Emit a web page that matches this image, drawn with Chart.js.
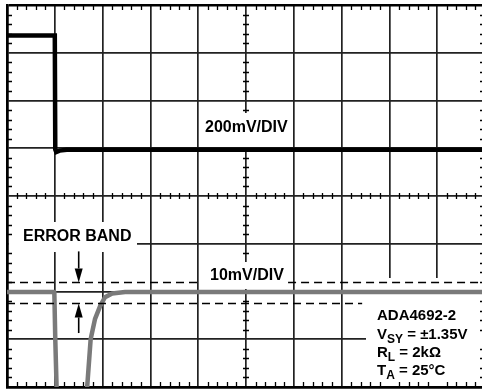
<!DOCTYPE html>
<html>
<head>
<meta charset="utf-8">
<script src="https://cdn.jsdelivr.net/npm/chart.js@4/dist/chart.umd.min.js"></script>
<style>
  html, body { margin:0; padding:0; overflow:hidden; background:#fff; }
  #wrap { position:relative; width:490px; height:392px; }
  #c { position:absolute; left:0; top:0; }
  .lbl { position:absolute; font-family:"Liberation Sans", Arial, sans-serif; font-weight:bold; color:#000; white-space:nowrap; line-height:1; }
  .f16 { font-size:16px; }
  .f15 { font-size:15px; }
  .sub { font-size:12px; position:relative; top:4px; }
</style>
</head>
<body>
<div id="wrap">
  <canvas id="c" width="490" height="392"></canvas>
  <div class="lbl f16" style="left:205px; top:119px;">200mV/DIV</div>
  <div class="lbl f16" style="left:210px; top:267px;">10mV/DIV</div>
  <div class="lbl f16" style="left:23px; top:228px;">ERROR BAND</div>
  <div class="lbl f15" style="left:377px; top:307px;">ADA4692-2</div>
  <div class="lbl f15" style="left:377px; top:326px;">V<span class="sub">SY</span> = ±1.35V</div>
  <div class="lbl f15" style="left:377px; top:344px;">R<span class="sub">L</span> = 2kΩ</div>
  <div class="lbl f15" style="left:377px; top:362px;">T<span class="sub">A</span> = 25°C</div>
</div>
<script>
// ---- data (divisions) ----
const topX  = [0, 1.0, 1.01, 1.03, 1.1, 1.25, 10];
const topY  = [3.36, 3.36, 0.97, 0.92, 0.95, 0.97, 0.97];

const grayX = [0, 0.99, 1.01, 1.04, 1.05, 1.67, 1.75, 1.84, 1.95, 2.05, 2.2, 2.47, 10];
const grayY = [-2.01, -2.01, -3.0, -4.1, null, -4.1, -3.0, -2.58, -2.30, -2.12, -2.04, -2.01, -2.01];

const bandUpperX = [0, 4.0, 4.01, 5.88, 10];
const bandUpperY = [-1.81, -1.81, null, -1.81, -1.81];
const bandLowerX = [0, 7.43];
const bandLowerY = [-2.25, -2.25];

const arrowX    = [1.5, 1.5];
const arrowFrom = [-1.16, -2.87];
const arrowTo   = [-1.81, -2.25];

const xDivs = [0, 10];
const yDivs = [-4, 4];

const pts = (xs, ys) => xs.map((v, i) => ({x: v, y: ys[i]}));

// label background boxes (pixels)
const boxes = [
  {x0:200, y0:113, x1:292, y1:147},
  {x0:199, y0:262, x1:289, y1:289},
  {x0:9,   y0:222, x1:137, y1:252},
  {x0:366, y0:278, x1:483, y1:386}
];

const scopePlugin = {
  id: 'scope',
  beforeDatasetsDraw(chart) {
    const {ctx, scales:{x, y}, chartArea:a} = chart;
    ctx.save();
    ctx.strokeStyle = '#000';
    ctx.lineWidth = 1.3;
    const x0 = x.getPixelForValue(5), y0 = y.getPixelForValue(0);
    ctx.beginPath();
    for (let i = 1; i < 50; i++) {
      if (i % 5 === 0) continue;
      const px = Math.round(x.getPixelForValue(i / 5)) + 0.5;
      ctx.moveTo(px, y0 - 3); ctx.lineTo(px, y0 + 3);
    }
    for (let i = -19; i < 20; i++) {
      if (i % 5 === 0) continue;
      const py = Math.round(y.getPixelForValue(i / 5)) + 0.5;
      ctx.moveTo(x0 - 3, py); ctx.lineTo(x0 + 3, py);
    }
    ctx.stroke();
    // label boxes
    ctx.fillStyle = '#fff';
    boxes.forEach(b => ctx.fillRect(b.x0, b.y0, b.x1 - b.x0, b.y1 - b.y0));
    // border minor ticks
    ctx.beginPath();
    for (let i = 1; i < 50; i++) {
      if (i % 5 === 0) continue;
      const px = Math.round(x.getPixelForValue(i / 5)) + 0.5;
      ctx.moveTo(px, a.top); ctx.lineTo(px, a.top + 5);
      ctx.moveTo(px, a.bottom); ctx.lineTo(px, a.bottom - 5);
    }
    for (let i = -19; i < 20; i++) {
      if (i % 5 === 0) continue;
      const py = Math.round(y.getPixelForValue(i / 5)) + 0.5;
      ctx.moveTo(a.left, py); ctx.lineTo(a.left + 5, py);
      ctx.moveTo(a.right, py); ctx.lineTo(a.right - 5, py);
    }
    ctx.stroke();
    ctx.restore();
  },
  afterDatasetsDraw(chart) {
    const {ctx, scales:{x, y}} = chart;
    ctx.save();
    ctx.strokeStyle = '#000';
    ctx.fillStyle = '#000';
    ctx.lineWidth = 1.6;
    arrowX.forEach((ax, i) => {
      const px = x.getPixelForValue(ax);
      const pf = y.getPixelForValue(arrowFrom[i]);
      const pt = y.getPixelForValue(arrowTo[i]);
      const dir = pt > pf ? 1 : -1;
      const headLen = 14, half = 4;
      ctx.beginPath();
      ctx.moveTo(px, pf); ctx.lineTo(px, pt - dir * headLen);
      ctx.stroke();
      ctx.beginPath();
      ctx.moveTo(px, pt);
      ctx.lineTo(px - half, pt - dir * headLen);
      ctx.lineTo(px + half, pt - dir * headLen);
      ctx.closePath();
      ctx.fill();
    });
    ctx.restore();
  }
};

const edgeWidth = (v, lo, hi) => (v === lo || v === hi) ? 2.5 : 1.7;
const edgeColor = (v, lo, hi) => (v === lo || v === hi) ? '#000' : '#222';

new Chart(document.getElementById('c'), {
  type: 'line',
  data: {
    datasets: [
      { data: pts(bandUpperX, bandUpperY), borderColor:'#000', borderWidth:1.5, borderDash:[8,5], pointRadius:0, spanGaps:false, tension:0 },
      { data: pts(bandLowerX, bandLowerY), borderColor:'#000', borderWidth:1.5, borderDash:[8,5], pointRadius:0, tension:0 },
      { data: pts(grayX, grayY), borderColor:'#7a7a7a', borderWidth:4.5, pointRadius:0, spanGaps:false, tension:0, borderJoinStyle:'round' },
      { data: pts(topX, topY), borderColor:'#000', borderWidth:4.5, pointRadius:0, tension:0 }
    ]
  },
  options: {
    responsive: false,
    animation: false,
    devicePixelRatio: 1,
    layout: { padding: { left:7, top:5, right:5, bottom:5 } },
    plugins: { legend:{display:false}, tooltip:{enabled:false} },
    scales: {
      x: {
        type:'linear', min:xDivs[0], max:xDivs[1],
        ticks:{ display:false, stepSize:1 },
        grid:{ drawTicks:false, color: c => edgeColor(c.tick.value, xDivs[0], xDivs[1]), lineWidth: c => edgeWidth(c.tick.value, xDivs[0], xDivs[1]) },
        border:{ display:true, color:'#000', width:2.5 }
      },
      y: {
        type:'linear', min:yDivs[0], max:yDivs[1],
        ticks:{ display:false, stepSize:1 },
        grid:{ drawTicks:false, color: c => edgeColor(c.tick.value, yDivs[0], yDivs[1]), lineWidth: c => edgeWidth(c.tick.value, yDivs[0], yDivs[1]) },
        border:{ display:true, color:'#000', width:2.5 }
      }
    }
  },
  plugins: [scopePlugin]
});
</script>
</body>
</html>
